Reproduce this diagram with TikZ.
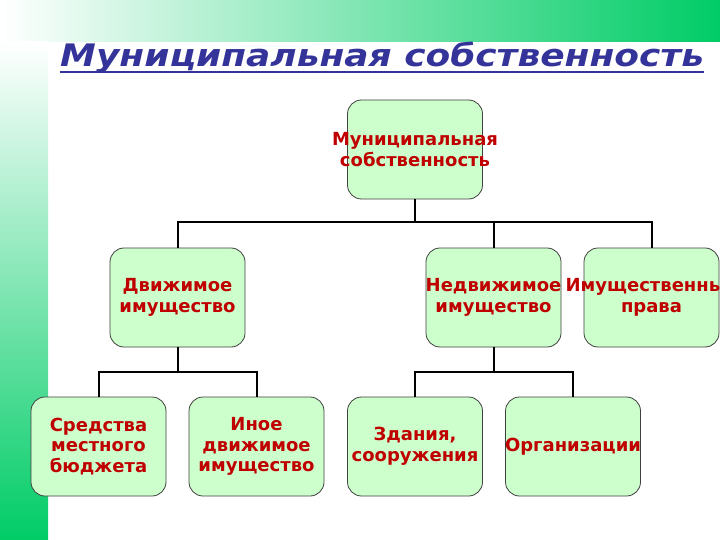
\documentclass[tikz,border=0pt]{standalone}
\usepackage{fontspec}
\setmainfont{DejaVu Sans}
\usepackage{tikz}
\definecolor{dgreen}{RGB}{0,204,102}
\definecolor{lgreen}{RGB}{204,255,204}
\definecolor{dred}{RGB}{192,0,0}
\definecolor{tblue}{RGB}{51,51,153}
% line that may stick out of its box
\newcommand{\ovl}[1]{\makebox[0pt]{#1}}

\begin{document}
\begin{tikzpicture}[x=1pt, y=-1pt,
  box/.style={draw=black!75, line width=0.8pt, fill=lgreen, rounded corners=14pt,
    minimum width=135pt, minimum height=99pt, inner sep=0pt, align=center,
    text=dred, font=\fontsize{18}{20.5}\selectfont\bfseries},
  link/.style={line width=2pt}]
  % Frame
  \useasboundingbox (0,0) rectangle (720,540);
  \fill[white] (0,0) rectangle (720,540);
  \shade[left color=white, right color=dgreen] (0,0) rectangle (720,42);
  \shade[top color=white, bottom color=dgreen] (0,42) rectangle (48,540);
  % Title
  \node[anchor=base west, inner sep=0pt, text=tblue, xscale=1.16, transform shape,
    font=\fontsize{31}{38}\selectfont\bfseries\itshape] (title) at (60,67)
    {Муниципальная собственность};
  \draw[tblue, line width=2.2pt] ([yshift=-5pt]title.base west) -- ([yshift=-5pt]title.base east);
  % Boxes
  \node[box] (root)   at (415,149.5)   {\ovl{Муниципальная}\\\ovl{собственность}};
  \node[box] (mov)    at (177.5,297.5) {Движимое\\имущество};
  \node[box] (immov)  at (493.5,297.5) {\ovl{Недвижимое}\\\ovl{имущество}};
  \node[box] (rights) at (651.5,297.5) {\ovl{Имущественные}\\\ovl{права}};
  \node[box] (funds)  at (98.5,446.5)  {Средства\\местного\\бюджета};
  \node[box] (other)  at (256.5,446.5) {Иное\\движимое\\имущество};
  \node[box] (build)  at (415,446.5)   {\ovl{Здания,}\\\ovl{сооружения}};
  \node[box] (orgs)   at (573,446.5)   {\ovl{Организации}};
  % Links
  \foreach \child in {mov,immov,rights}
    \draw[link] (root.south) -- ++(0,23) -| (\child.north);
  \foreach \child in {funds,other}
    \draw[link] (mov.south) -- ++(0,25) -| (\child.north);
  \foreach \child in {build,orgs}
    \draw[link] (immov.south) -- ++(0,25) -| (\child.north);
\end{tikzpicture}
\end{document}
